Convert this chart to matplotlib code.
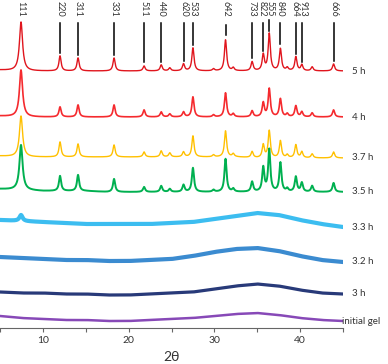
import numpy as np
import matplotlib.pyplot as plt
from matplotlib.ticker import MultipleLocator, FuncFormatter

plt.rcParams['font.family'] = ['Lato', 'DejaVu Sans']

# peak positions (2theta)
peak_pos = [7.45, 12.0, 14.1, 18.3, 21.8, 23.8, 24.8, 26.4, 27.5, 29.9, 31.3,
            32.2, 34.4, 35.7, 36.4, 37.7, 38.5, 39.5, 40.2, 41.4, 43.9]
peak_w = [0.22] + [0.15] * 20

# peak heights above the baseline for each pattern
h_5h = [49, 15, 13, 13, 5, 6, 3, 7, 23, 2, 31, 3, 9, 16, 37, 22, 3, 14, 6, 4, 7]
h_4h = [47, 10, 12, 12, 7, 5, 3, 5, 20, 2, 24, 3, 6, 14, 28, 18, 3, 11, 5, 4, 7]
h_37h = [41, 15, 13, 12, 5, 6, 4, 5, 21, 2, 26, 3, 6, 13, 27, 17, 3, 13, 6, 4, 6]
h_35h = [45, 15, 16, 13, 5, 6, 3, 7, 24, 2, 33, 3, 10, 24, 42, 29, 3, 15, 9, 6, 9]
h_33h = [6] + [0] * 20
h_none = [0] * 21

# baselines (offset included) at every 2.5 degrees
base_x = [5, 7.5, 10, 12.5, 15, 17.5, 20, 22.5, 25, 27.5, 30, 32.5, 35, 37.5, 40, 42.5, 45]
b_5h = [258] + [257] * 16
b_4h = [212] + [211] * 16
b_37h = [172] + [171] * 11 + [170] * 5
b_35h = [139, 138, 137, 137, 137] + [136] * 12
b_33h = [108, 107, 106, 105, 104, 104, 104, 104, 105, 106, 109, 112, 115, 113, 108, 104, 101]
b_32h = [71, 70, 69, 68, 68, 67, 67, 68, 69, 72, 76, 79, 80, 77, 72, 68, 66]
b_3h = [36, 35, 35, 34, 34, 33, 33, 34, 35, 36, 39, 42, 44, 42, 38, 35, 34]
b_gel = [12, 10, 9, 8, 8, 7, 7, 8, 9, 10, 12, 14, 15, 13, 10, 8, 7]

series = [
    ('5 h', b_5h, h_5h, '#e0151d', 1.0, 1.0),
    ('4 h', b_4h, h_4h, '#f52a2e', 1.2, 1.0),
    ('3.7 h', b_37h, h_37h, '#ffc000', 1.0, 1.0),
    ('3.5 h', b_35h, h_35h, '#00b050', 1.4, 1.0),
    ('3.3 h', b_33h, h_33h, '#1ab2ee', 3.0, 0.85),
    ('3.2 h', b_32h, h_none, '#1877c8', 3.0, 0.85),
    ('3 h', b_3h, h_none, '#10246a', 2.3, 0.9),
    ('initial gel', b_gel, h_none, '#7a35b0', 1.8, 0.9),
]
label_x = [46.0, 46.0, 46.0, 46.0, 46.0, 46.0, 46.0, 44.9]

hkl = ['111', '220', '311', '331', '511', '440', '620', '533', '642',
       '733', '822', '555', '840', '664', '913', '666']
hkl_pos = [7.45, 12.0, 14.1, 18.3, 21.8, 23.8, 26.4, 27.5, 31.3,
           34.4, 35.7, 36.4, 37.7, 39.5, 40.2, 43.9]
# small sideways nudges so crowded labels don't touch
hkl_nudge = [0, 0, 0, 0, 0, 0, 0, 0, 0, 0, -0.15, 0.12, 0, -0.15, 0.12, 0]
hkl_line_top = [None, 305, 305, 305, 305, 305, 305, 305, 303,
                305, 305, 308, 305, 305, 305, 305]
hkl_line_bot = [None, 275, 273, 273, 266, 266, 267, 283, 293,
                270, 277, 297, 284, 274, 266, 267]

fig = plt.figure(figsize=(3.88, 3.64), dpi=100)
ax = fig.add_axes([0, 36 / 364, 343 / 388, 328 / 364])

x = np.linspace(5, 45, 2401)
for (name, base, heights, color, lw, alpha), lx in zip(series, label_x):
    y = np.interp(x, base_x, base)
    for p, w, h in zip(peak_pos, peak_w, heights):
        y = y + h / (1 + ((x - p) / w) ** 2)
    ax.plot(x, y, color=color, lw=lw, alpha=alpha, solid_joinstyle='round')
    ax.text(lx, base[-1], name, fontsize=7, color='#333333',
            va='center', ha='left')

for lab, p, dx, top, bot in zip(hkl, hkl_pos, hkl_nudge, hkl_line_top, hkl_line_bot):
    ax.text(p + dx, 327, lab, rotation=270, fontsize=6.5, color='#333333',
            ha='center', va='top')
    if top is not None:
        ax.plot([p, p], [bot, top], color='black', lw=1.1)

ax.set_xlim(5, 45)
ax.set_ylim(0, 328)
for s in ['left', 'right', 'top']:
    ax.spines[s].set_visible(False)
ax.spines['bottom'].set_color('#666666')
ax.set_yticks([])
ax.xaxis.set_major_locator(MultipleLocator(5))
ax.xaxis.set_major_formatter(FuncFormatter(lambda v, pos: '%d' % v if v % 10 == 0 else ''))
ax.tick_params(axis='x', length=3, color='#666666', labelsize=7.5,
               labelcolor='#333333', pad=3)
ax.set_xlabel('2θ', fontsize=10, color='#333333', labelpad=4)
ax.patch.set_visible(False)

fig.savefig('out.png', dpi=100)
